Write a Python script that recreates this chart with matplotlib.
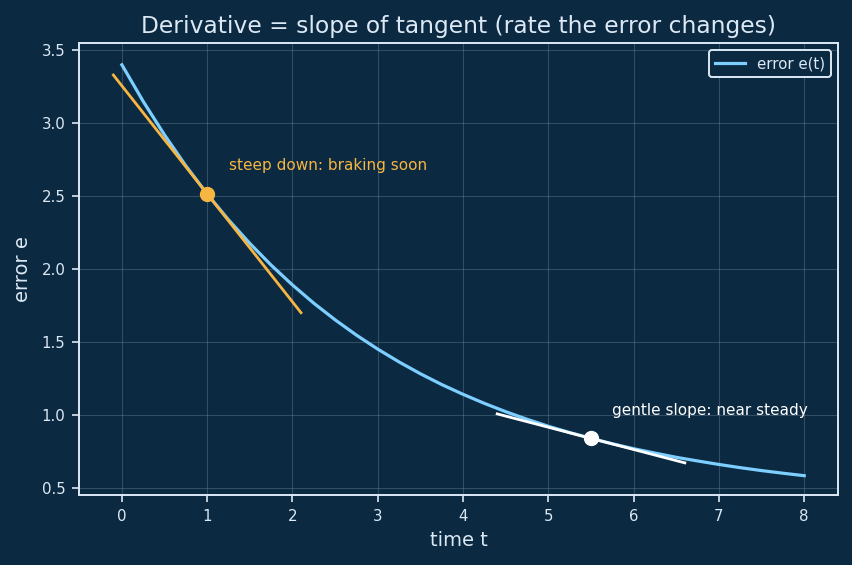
import matplotlib
matplotlib.use("Agg")
import matplotlib.pyplot as plt

# error curve
t = [0, 0.25, 0.5, 0.75, 1, 1.25, 1.5, 1.75, 2, 2.25, 2.5, 2.75, 3, 3.25, 3.5, 3.75,
     4, 4.25, 4.5, 4.75, 5, 5.25, 5.5, 5.75, 6, 6.25, 6.5, 6.75, 7, 7.25, 7.5, 7.75, 8]
err = [3.400, 3.149, 2.919, 2.707, 2.514, 2.337, 2.175, 2.026, 1.890, 1.765, 1.651, 1.546,
       1.450, 1.362, 1.281, 1.207, 1.140, 1.078, 1.021, 0.969, 0.921, 0.878, 0.838, 0.801,
       0.767, 0.737, 0.708, 0.683, 0.659, 0.637, 0.617, 0.599, 0.582]

# tangent points and segment ends
steep_pt = (1.0, 2.514)
steep_x = [-0.1, 2.1]
steep_y = [3.33, 1.70]
gentle_pt = (5.5, 0.838)
gentle_x = [4.4, 6.6]
gentle_y = [1.006, 0.670]

bg = "#0b2941"
fg = "#dce9f5"
blue = "#7ccfff"
orange = "#f7b541"

fig, ax = plt.subplots(figsize=(8.52, 5.65), dpi=100)
fig.patch.set_facecolor(bg)
ax.set_facecolor(bg)
fig.subplots_adjust(left=0.093, right=0.984, top=0.924, bottom=0.124)

ax.plot(t, err, color=blue, lw=2.3, label="error e(t)", zorder=3)
ax.plot(steep_x, steep_y, color=orange, lw=2.0, zorder=4)
ax.plot(*steep_pt, "o", color=orange, ms=10, zorder=5)
ax.plot(gentle_x, gentle_y, color="white", lw=2.0, zorder=4)
ax.plot(*gentle_pt, "o", color="white", ms=10, zorder=5)

ax.text(1.25, 2.68, "steep down: braking soon", color=orange, fontsize=11)
ax.text(5.75, 1.0, "gentle slope: near steady", color="white", fontsize=11)

ax.set_xlim(-0.5, 8.4)
ax.set_ylim(0.45, 3.55)
ax.set_xticks(range(9))
ax.set_yticks([0.5, 1.0, 1.5, 2.0, 2.5, 3.0, 3.5])
ax.grid(True, color="#8aa4bb", alpha=0.3, lw=0.8)

ax.set_title("Derivative = slope of tangent (rate the error changes)", color=fg,
             fontsize=16.8, pad=7)
ax.set_xlabel("time t", color=fg, fontsize=14, labelpad=5)
ax.set_ylabel("error e", color=fg, fontsize=14, labelpad=6.5)
ax.tick_params(colors=fg, labelsize=10.8, length=5, width=1.2, pad=5)
for s in ax.spines.values():
    s.set_color(fg)
    s.set_linewidth(1.4)

leg = ax.legend(loc="upper right", fontsize=10.8, facecolor=bg, edgecolor=fg, labelcolor=fg)
leg.get_frame().set_linewidth(1.4)
leg.get_frame().set_alpha(1)

fig.savefig("out.png", dpi=100, facecolor=bg)
